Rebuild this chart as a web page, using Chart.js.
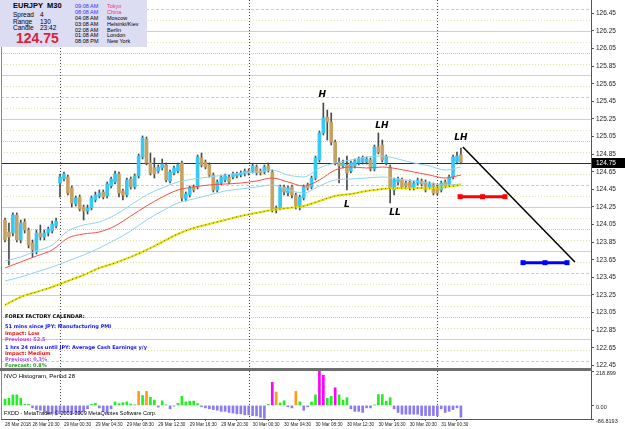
<!DOCTYPE html>
<html>
<head>
<meta charset="utf-8">
<script src="https://cdn.jsdelivr.net/npm/chart.js@4.4.1/dist/chart.umd.min.js"></script>
<style>
  body { margin: 0; background: #fff; }
  #wrap { position: relative; width: 625px; height: 429px; overflow: hidden; }
  #main { position: absolute; left: 0; top: 0; }
  #hist { position: absolute; left: 0; top: 369px; }
  #sep { position: absolute; left: 0; top: 368px; width: 592px; height: 3px; background: #6e6e6e; }
  #info { position: absolute; left: 0; top: 0; width: 147px; height: 47px; background: #dcdcf2; }
</style>
</head>
<body>
<div id="wrap">
  <canvas id="main" width="625" height="369"></canvas>
  <canvas id="hist" width="625" height="60"></canvas>
  <div id="sep"></div>
  <div id="info"></div>
</div>
<script>
// EURJPY M30 candles, one per bar (bar 0 = 28 Mar 17:00)
const openP = [
  124.102, 123.966, 123.954, 124.159, 123.875, 124.079, 123.988, 123.841, 123.738, 123.954,
  123.909, 123.954, 123.977, 124.034, 124.522, 124.568, 124.591, 124.466, 124.284, 124.363,
  124.250, 124.204, 124.238, 124.329, 124.375, 124.420, 124.375, 124.488, 124.534, 124.625,
  124.432, 124.386, 124.568, 124.477, 124.602, 124.818, 125.022, 124.750, 124.693, 124.659,
  124.693, 124.727, 124.545, 124.636, 124.659, 124.750, 124.341, 124.386, 124.477, 124.477,
  124.807, 124.761, 124.727, 124.613, 124.443, 124.522, 124.557, 124.591, 124.591, 124.602,
  124.613, 124.625, 124.659, 124.659, 124.704, 124.659, 124.647, 124.716, 124.647, 124.238,
  124.238, 124.477, 124.409, 124.477, 124.386, 124.238, 124.352, 124.500, 124.477, 124.579,
  124.784, 125.091, 125.272, 125.216, 124.988, 124.750, 124.716, 124.727, 124.659, 124.716,
  124.750, 124.761, 124.761, 124.784, 124.682, 124.932, 124.954, 124.750, 124.704, 124.443,
  124.534, 124.557, 124.522, 124.534, 124.466, 124.522, 124.545, 124.534, 124.477, 124.500,
  124.477, 124.443, 124.534, 124.511, 124.591, 124.761, 124.841
];
const highP = [
  124.125, 124.068, 124.182, 124.182, 124.102, 124.113, 124.011, 123.875, 123.988, 124.045,
  123.988, 124.022, 124.091, 124.125, 124.625, 124.647, 124.613, 124.488, 124.375, 124.386,
  124.272, 124.272, 124.375, 124.420, 124.443, 124.443, 124.534, 124.591, 124.659, 124.647,
  124.454, 124.579, 124.591, 124.625, 124.852, 125.057, 125.045, 124.863, 124.807, 124.727,
  124.795, 124.750, 124.670, 124.716, 124.750, 124.772, 124.420, 124.488, 124.500, 124.841,
  124.863, 124.784, 124.750, 124.636, 124.557, 124.613, 124.625, 124.613, 124.647, 124.647,
  124.659, 124.682, 124.682, 124.738, 124.727, 124.682, 124.727, 124.750, 124.670, 124.261,
  124.500, 124.500, 124.488, 124.500, 124.409, 124.386, 124.500, 124.522, 124.602, 124.829,
  125.113, 125.432, 125.352, 125.318, 125.011, 124.807, 124.784, 124.829, 124.772, 124.795,
  124.818, 124.829, 124.818, 124.807, 124.954, 125.091, 125.011, 124.841, 124.727, 124.579,
  124.591, 124.579, 124.545, 124.557, 124.545, 124.579, 124.568, 124.557, 124.534, 124.522,
  124.500, 124.545, 124.557, 124.613, 124.841, 124.875, 124.920
];
const lowP = [
  123.852, 123.591, 123.920, 123.852, 123.841, 123.954, 123.784, 123.682, 123.716, 123.875,
  123.875, 123.920, 123.954, 124.011, 124.363, 124.545, 124.386, 124.250, 124.261, 124.204,
  124.102, 124.170, 124.216, 124.307, 124.352, 124.341, 124.352, 124.466, 124.511, 124.363,
  124.329, 124.363, 124.454, 124.454, 124.579, 124.795, 124.727, 124.613, 124.579, 124.636,
  124.670, 124.534, 124.522, 124.613, 124.636, 124.318, 124.318, 124.363, 124.420, 124.454,
  124.704, 124.682, 124.591, 124.420, 124.420, 124.500, 124.534, 124.511, 124.568, 124.579,
  124.591, 124.602, 124.613, 124.636, 124.613, 124.613, 124.625, 124.647, 124.193, 124.182,
  124.216, 124.386, 124.375, 124.352, 124.227, 124.216, 124.329, 124.443, 124.454, 124.557,
  124.761, 125.068, 125.011, 124.954, 124.727, 124.522, 124.693, 124.443, 124.636, 124.693,
  124.727, 124.738, 124.738, 124.659, 124.659, 124.852, 124.761, 124.727, 124.295, 124.386,
  124.500, 124.454, 124.454, 124.443, 124.443, 124.500, 124.488, 124.420, 124.454, 124.386,
  124.386, 124.420, 124.466, 124.488, 124.568, 124.738, 124.738
];
const closeP = [
  123.875, 123.909, 124.159, 123.875, 124.068, 123.988, 123.818, 123.761, 123.954, 123.909,
  123.954, 124.000, 124.057, 124.091, 124.591, 124.625, 124.409, 124.295, 124.352, 124.227,
  124.204, 124.238, 124.352, 124.386, 124.409, 124.363, 124.511, 124.568, 124.625, 124.409,
  124.386, 124.557, 124.477, 124.602, 124.829, 125.034, 124.750, 124.636, 124.625, 124.704,
  124.738, 124.557, 124.647, 124.693, 124.727, 124.352, 124.397, 124.466, 124.443, 124.818,
  124.727, 124.704, 124.613, 124.443, 124.534, 124.591, 124.602, 124.534, 124.625, 124.625,
  124.636, 124.659, 124.636, 124.716, 124.636, 124.636, 124.704, 124.670, 124.216, 124.216,
  124.477, 124.420, 124.466, 124.386, 124.250, 124.363, 124.477, 124.466, 124.579, 124.807,
  125.091, 125.261, 125.216, 124.988, 124.750, 124.716, 124.750, 124.636, 124.750, 124.772,
  124.795, 124.807, 124.795, 124.682, 124.932, 124.875, 124.784, 124.818, 124.466, 124.557,
  124.568, 124.477, 124.488, 124.466, 124.522, 124.557, 124.511, 124.443, 124.511, 124.409,
  124.409, 124.522, 124.488, 124.591, 124.818, 124.829, 124.761
];

// moving averages, read every 4th bar
const maBars = [0, 4, 8, 12, 16, 20, 24, 28, 32, 36, 40, 44, 48, 52, 56, 60, 64, 68, 72, 76, 80, 84, 88, 92, 96, 100, 104, 108, 112, 116];
const envUpper = [123.636, 123.682, 123.750, 123.818, 123.977, 124.045, 124.079, 124.159, 124.272, 124.386, 124.466, 124.534, 124.568, 124.591, 124.613, 124.636, 124.647, 124.670, 124.613, 124.591, 124.693, 124.750, 124.784, 124.818, 124.829, 124.795, 124.750, 124.716, 124.670, 124.704];
const maRed = [123.557, 123.625, 123.693, 123.761, 123.897, 123.943, 123.966, 124.034, 124.147, 124.261, 124.363, 124.443, 124.477, 124.500, 124.511, 124.522, 124.545, 124.579, 124.534, 124.488, 124.557, 124.670, 124.704, 124.693, 124.704, 124.682, 124.647, 124.613, 124.579, 124.613];
const envLower = [123.409, 123.454, 123.511, 123.568, 123.636, 123.704, 123.784, 123.875, 123.977, 124.102, 124.204, 124.295, 124.341, 124.386, 124.432, 124.454, 124.477, 124.500, 124.443, 124.409, 124.488, 124.557, 124.568, 124.579, 124.591, 124.568, 124.545, 124.522, 124.500, 124.511];
const maYellow = [123.136, 123.227, 123.284, 123.341, 123.409, 123.477, 123.557, 123.613, 123.682, 123.761, 123.852, 123.943, 124.011, 124.057, 124.102, 124.147, 124.182, 124.216, 124.238, 124.261, 124.318, 124.375, 124.397, 124.432, 124.454, 124.466, 124.466, 124.466, 124.477, 124.500];

// NVO histogram, period 28
const nvo = [
  40, 45, 67, 67, 45, 7, 7, -16, -27, -31,
  -45, -54, -54, -60, -54, -49, -45, -54, -49, -54,
  -38, -22, 7, 13, -16, -38, -49, -22, 22, 11,
  18, 22, 9, 2, 89, 63, 89, 51, 34, -11,
  29, 2, -22, -5, 13, 58, 22, 27, 27, 11,
  -9, -16, -22, -27, -31, -38, -38, -45, -49, -54,
  -54, -60, -60, -65, -67, -76, -83, 7, 147, 85,
  16, 29, -9, -16, 89, 22, -31, -9, 22, 67,
  218.899, 192, 45, 58, 112, 67, 34, 49, -22, -38,
  -38, -45, -16, -16, 2, 69, 69, 27, 49, -22,
  -45, -56, -56, -56, -56, -56, -65, -65, -65, -65,
  -67, -22, -45, -38, -27, -16, -76
];
const nvoTicks = [-86.8193, 0, 218.899];
const nvoTickText = ['-86.8193', '0.00', '218.899'];

const priceTicks = [122.45, 122.65, 122.85, 123.05, 123.25, 123.45, 123.65, 123.85, 124.05, 124.25, 124.45, 124.65, 124.85, 125.05, 125.25, 125.45, 125.65, 125.85, 126.05, 126.25, 126.45];
const levelPrices = [122.5, 122.625, 122.75, 122.875, 123, 123.125, 123.25, 123.375, 123.5, 123.625, 123.75, 123.875, 124, 124.125, 124.25, 124.375, 124.5, 124.625, 124.75, 124.875, 125, 125.125, 125.25, 125.375, 125.5, 125.625, 125.75, 125.875, 126, 126.125, 126.25, 126.375, 126.5];
const bid = 124.75;

const timeLabelBars = [0, 7, 15, 23, 31, 39, 47, 55, 63, 71, 79, 87, 95, 103, 111];
const timeLabels = ['28 Mar 2018', '28 Mar 20:30', '29 Mar 00:30', '29 Mar 04:30', '29 Mar 08:30', '29 Mar 12:30', '29 Mar 16:30', '29 Mar 20:30', '30 Mar 00:30', '30 Mar 04:30', '30 Mar 08:30', '30 Mar 12:30', '30 Mar 16:30', '30 Mar 20:30', '31 Mar 00:30'];
const dayBreakBars = [14, 62, 110];

// hand drawn objects
const trendBars = [116.5, 145.0];
const trendPrices = [124.932, 123.625];
const redMarkBars = [115.8, 121.5, 127.2];
const redMarkPrices = [124.367, 124.367, 124.367];
const blueMarkBars = [131.8, 137.4, 143.0];
const blueMarkPrices = [123.617, 123.617, 123.617];
const swingText = ['H', 'LH', 'L', 'LL', 'LH'];
const swingBars = [80.7, 95.9, 87.0, 99.2, 116.0];
const swingPrices = [125.522, 125.170, 124.273, 124.182, 125.034];

const xMin = -1.02, xMax = 149.1;
const bars = openP.map((_, i) => i);
const pts = (xs, ys) => xs.map((x, k) => ({x: x, y: ys[k]}));

function levelStyle(p) {
  const f = Math.round((p % 1) * 1000);
  if (f === 0) return {c: '#f0b4c4', d: [1, 1]};
  if (f === 500) return {c: '#a8e6a8', d: [3, 2]};
  if (f === 250 || f === 750) return {c: '#cacaf4', d: []};
  return {c: '#e2e2a6', d: [1, 2]};
}

function vline(ctx, x, top, bottom) {
  const px = Math.round(x) + 0.5;
  ctx.beginPath(); ctx.moveTo(px, top); ctx.lineTo(px, bottom); ctx.stroke();
}

const mainPlugin = {
  id: 'mainPlugin',
  beforeDatasetsDraw(chart) {
    const {ctx, chartArea: a, scales: {x, y}} = chart;
    ctx.save();
    ctx.lineWidth = 1;
    levelPrices.forEach(p => {
      const s = levelStyle(p);
      const py = Math.round(y.getPixelForValue(p)) + 0.5;
      ctx.strokeStyle = s.c; ctx.setLineDash(s.d);
      ctx.beginPath(); ctx.moveTo(a.left, py); ctx.lineTo(a.right, py); ctx.stroke();
    });
    ctx.setLineDash([]);
    ctx.strokeStyle = '#26266e';
    const by = Math.round(y.getPixelForValue(bid)) + 0.5;
    ctx.beginPath(); ctx.moveTo(a.left, by); ctx.lineTo(a.right, by); ctx.stroke();
    ctx.strokeStyle = '#444';
    ctx.setLineDash([1, 2]);
    dayBreakBars.forEach(b => vline(ctx, x.getPixelForValue(b), a.top, a.bottom));
    ctx.setLineDash([]);
    ctx.strokeStyle = '#8a8a8a';
    vline(ctx, a.left, a.top, a.bottom);
    ctx.restore();
  },
  afterDraw(chart) {
    const {ctx, chartArea: a, scales: {x, y}} = chart;
    ctx.save();
    ctx.fillStyle = '#000';
    ctx.font = 'italic bold 9px "DejaVu Sans"';
    ctx.textAlign = 'center';
    ctx.textBaseline = 'middle';
    swingText.forEach((t, k) => {
      ctx.fillText(t, x.getPixelForValue(swingBars[k]), y.getPixelForValue(swingPrices[k]));
    });
    const by = Math.round(y.getPixelForValue(bid));
    ctx.fillStyle = '#000';
    ctx.fillRect(a.right + 1, by - 5, 33, 10);
    ctx.fillStyle = '#fff';
    ctx.font = '6.5px "Liberation Sans"';
    ctx.textAlign = 'left';
    ctx.fillText(bid.toFixed(2), a.right + 5, by);
    ctx.restore();
  }
};

const histPlugin = {
  id: 'histPlugin',
  beforeDatasetsDraw(chart) {
    const {ctx, chartArea: a, scales: {x}} = chart;
    ctx.save();
    ctx.strokeStyle = '#444';
    ctx.setLineDash([1, 2]);
    dayBreakBars.forEach(b => vline(ctx, x.getPixelForValue(b), a.top, a.bottom));
    ctx.setLineDash([]);
    ctx.strokeStyle = '#8a8a8a';
    vline(ctx, a.left, a.top, a.bottom);
    ctx.restore();
  }
};

const bullColor = '#36c8f6';
const bearColor = '#c6a266';
const axisFont = {family: 'Liberation Sans', size: 6.5};

const yAxisBase = {
  position: 'right',
  grid: {drawOnChartArea: false, drawTicks: true, tickLength: 3, color: '#555'},
  border: {display: true, color: '#555'},
  ticks: {font: axisFont, color: '#222', padding: 2},
};

new Chart(document.getElementById('main'), {
  type: 'bar',
  data: {
    datasets: [
      {type: 'line', data: pts(trendBars, trendPrices), borderColor: '#000', borderWidth: 1.5, pointRadius: 0, order: 1},
      {type: 'line', data: pts(redMarkBars, redMarkPrices), borderColor: '#ff0000', borderWidth: 3, pointStyle: 'rect', pointRadius: 3.5, pointBackgroundColor: '#ff0000', pointBorderWidth: 0, order: 1},
      {type: 'line', data: pts(blueMarkBars, blueMarkPrices), borderColor: '#0000ff', borderWidth: 3, pointStyle: 'rect', pointRadius: 3.5, pointBackgroundColor: '#0000ff', pointBorderWidth: 0, order: 1},
      {type: 'line', data: pts(maBars, maYellow), borderColor: '#5c5c00', borderWidth: 1, borderDash: [1, 3], pointRadius: 0, cubicInterpolationMode: 'monotone', order: 2},
      {type: 'line', data: pts(maBars, maYellow), borderColor: '#e4e400', borderWidth: 2, pointRadius: 0, cubicInterpolationMode: 'monotone', order: 3},
      {type: 'line', data: pts(maBars, envUpper), borderColor: '#8fd2f2', borderWidth: 1, pointRadius: 0, cubicInterpolationMode: 'monotone', order: 3},
      {type: 'line', data: pts(maBars, maRed), borderColor: '#f2504a', borderWidth: 1, pointRadius: 0, cubicInterpolationMode: 'monotone', order: 3},
      {type: 'line', data: pts(maBars, envLower), borderColor: '#8fd2f2', borderWidth: 1, pointRadius: 0, cubicInterpolationMode: 'monotone', order: 3},
      {
        data: bars.map(i => ({x: i, y: [Math.min(openP[i], closeP[i]), Math.max(openP[i], closeP[i])]})),
        backgroundColor: bars.map(i => closeP[i] >= openP[i] ? bullColor : bearColor),
        barThickness: 3, minBarLength: 1, grouped: false, order: 5
      },
      {
        data: bars.map(i => ({x: i, y: [lowP[i], highP[i]]})),
        backgroundColor: '#4a4a4a', barThickness: 1, grouped: false, order: 6
      }
    ]
  },
  options: {
    responsive: false,
    animation: false,
    events: [],
    layout: {autoPadding: false, padding: {left: 1, top: 0, right: 0, bottom: 1}},
    plugins: {legend: {display: false}, tooltip: {enabled: false}},
    scales: {
      x: {type: 'linear', min: xMin, max: xMax, offset: false, display: false},
      y: Object.assign({}, yAxisBase, {
        min: 122.42, max: 126.602,
        afterBuildTicks: s => { s.ticks = priceTicks.map(v => ({value: v})); },
        afterFit: s => { s.width = 34; s.paddingTop = 0; s.paddingBottom = 0; },
        ticks: Object.assign({}, yAxisBase.ticks, {callback: v => Number(v).toFixed(2)})
      })
    }
  },
  plugins: [mainPlugin]
});

function nvoColor(v) {
  if (v < 0) return '#8a7cf0';
  if (v > 105) return '#ff00ff';
  if (v > 75) return '#ff9a1a';
  return '#22ee22';
}

new Chart(document.getElementById('hist'), {
  type: 'bar',
  data: {
    datasets: [{
      data: bars.map(i => ({x: i, y: nvo[i]})),
      backgroundColor: nvo.map(nvoColor),
      barThickness: 2, grouped: false
    }]
  },
  options: {
    responsive: false,
    animation: false,
    events: [],
    layout: {autoPadding: false, padding: {left: 1, top: 2, right: 0, bottom: 0}},
    plugins: {legend: {display: false}, tooltip: {enabled: false}},
    scales: {
      x: {
        type: 'linear', min: xMin, max: xMax, offset: false,
        grid: {drawOnChartArea: false, drawTicks: true, tickLength: 2, color: '#555'},
        border: {display: true, color: '#555'},
        afterBuildTicks: s => { s.ticks = timeLabelBars.map(v => ({value: v})); },
        afterFit: s => { s.height = 10; s.paddingLeft = 0; s.paddingRight = 0; },
        ticks: {font: {family: 'Liberation Sans', size: 4.6}, color: '#222', padding: 1, align: 'start', maxRotation: 0, autoSkip: false,
          callback: (v, i) => timeLabels[i]}
      },
      y: Object.assign({}, yAxisBase, {
        min: -86.8193, max: 218.899,
        afterBuildTicks: s => { s.ticks = nvoTicks.map(v => ({value: v})); },
        afterFit: s => { s.width = 34; s.paddingTop = 0; s.paddingBottom = 0; },
        ticks: Object.assign({}, yAxisBase.ticks, {font: {family: 'Liberation Sans', size: 5.5}, labelOffset: 2, callback: (v, i) => nvoTickText[i]})
      })
    }
  },
  plugins: [histPlugin]
});

// text overlays
const wrap = document.getElementById('wrap');
function put(parent, text, x, cy, font, color) {
  const d = document.createElement('div');
  d.textContent = text;
  d.style.cssText = 'position:absolute;white-space:nowrap;font:' + font + ';line-height:10px;height:10px;left:' + x + 'px;top:' + (cy - 5) + 'px;color:' + color;
  parent.appendChild(d);
}
const info = document.getElementById('info');
const arial = '"Liberation Sans"';
put(info, 'EURJPY', 13, 6, 'bold 7.5px ' + arial, '#000');
put(info, 'M30', 47, 6, 'bold 7.5px ' + arial, '#000');
put(info, 'Spread', 13, 15, '6.5px ' + arial, '#000');
put(info, '4', 40, 15, '6.5px ' + arial, '#000');
put(info, 'Range', 13, 21.5, '6.5px ' + arial, '#000');
put(info, '130', 40, 21.5, '6.5px ' + arial, '#000');
put(info, 'Candle', 13, 28, '6.5px ' + arial, '#000');
put(info, '23:42', 40, 28, '6.5px ' + arial, '#000');
put(info, '124.75', 16, 38, 'bold 14px ' + arial, '#dc1f3c');
const clockTimes = ['09:08 AM', '08:08 AM', '04:08 AM', '03:08 AM', '02:08 AM', '01:08 AM', '08:08 PM'];
const clockCities = ['Tokyo', 'China', 'Moscow', 'Helsinki/Kiev', 'Berlin', 'London', 'New York'];
const clockRows = [6, 12, 18, 23.5, 29.5, 35, 41];
clockTimes.forEach((t, k) => {
  put(info, t, 75, clockRows[k], '5.5px ' + arial, k < 2 ? '#3030ff' : '#000');
  put(info, clockCities[k], 107, clockRows[k], '5.5px ' + arial, k < 2 ? '#e8406e' : '#000');
});

const verdana = '"DejaVu Sans"';
put(wrap, 'FOREX FACTORY CALENDAR:', 5, 316, 'bold 5px ' + verdana, '#000');
put(wrap, '51 mins since JPY: Manufacturing PMI', 5, 326, 'bold 5px ' + verdana, '#1010ff');
put(wrap, 'Impact: Low', 5, 332.5, 'bold 5px ' + verdana, '#ee1010');
put(wrap, 'Previous: 52.5', 5, 338.5, 'bold 5px ' + verdana, '#b048e0');
put(wrap, '1 hrs 24 mins until JPY: Average Cash Earnings y/y', 5, 346.5, 'bold 5px ' + verdana, '#1010ff');
put(wrap, 'Impact: Medium', 5, 352.5, 'bold 5px ' + verdana, '#ee1010');
put(wrap, 'Previous: 0.3%', 5, 358.5, 'bold 5px ' + verdana, '#b048e0');
put(wrap, 'Forecast: 0.8%', 5, 364.5, 'bold 5px ' + verdana, '#20a020');
put(wrap, 'NVO Histogram, Period 28', 4, 376, '6px ' + arial, '#000');
put(wrap, 'FXDD - MetaTrader, \u00a9 2001-2009 MetaQuotes Software Corp.', 4, 413, '5.5px ' + arial, '#000');
</script>
</body>
</html>
